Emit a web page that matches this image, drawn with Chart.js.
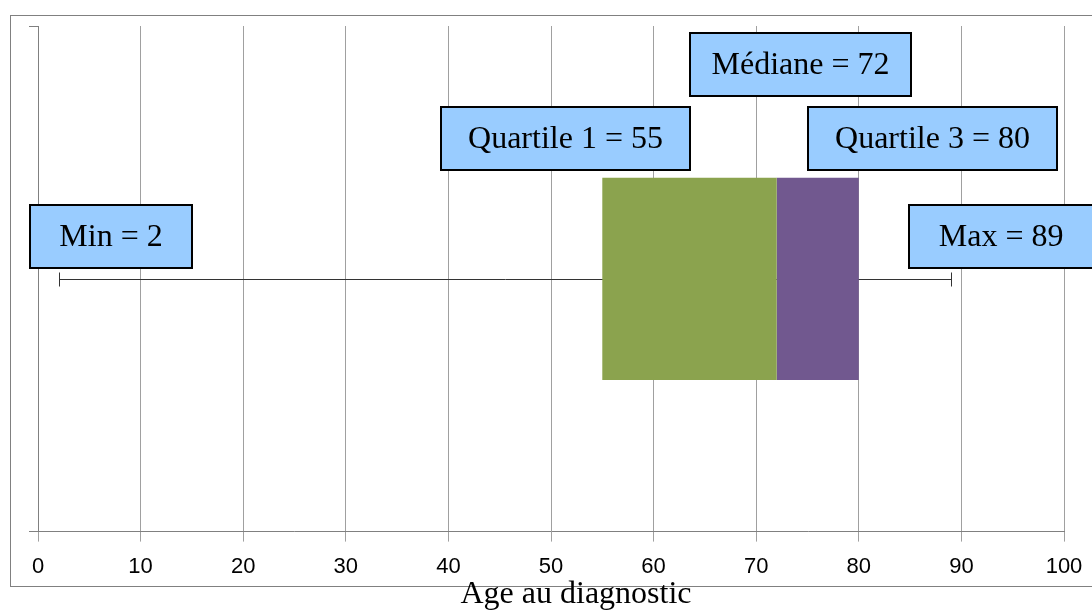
<!DOCTYPE html>
<html>
<head>
<meta charset="utf-8">
<script src="https://cdn.jsdelivr.net/npm/chart.js@4.4.1/dist/chart.umd.min.js"></script>
<style>
html,body{margin:0;padding:0;background:#fff;}
#wrap{width:1092px;height:610px;position:relative;}
</style>
</head>
<body>
<div id="wrap"><canvas id="c" width="1092" height="610"></canvas></div>
<script>
// ---- data ----
const categories = [''];
const minValue = 2;
const q1Value = 55;
const medianValue = 72;
const q3Value = 80;
const maxValue = 89;
const xTickValues = [0, 10, 20, 30, 40, 50, 60, 70, 80, 90, 100];
const xTitle = 'Age au diagnostic';
const labelTexts = ['Min = ' + minValue, 'Quartile 1 = ' + q1Value, 'Médiane = ' + medianValue, 'Quartile 3 = ' + q3Value, 'Max = ' + maxValue];
const labelValues = [minValue, q1Value, medianValue, q3Value, maxValue];

// label placement (pixels from value / whisker) and box padding
const labelDx = [52.5, -36.8, 23.8, 73.7, 50];
const labelDy = [-42, -140, -214, -140, -42];
const labelPad = [59, 54, 43, 54, 59];
const titleDx = 25;

const framePlugin = {
  id: 'frame',
  beforeDraw(chart) {
    const ctx = chart.ctx;
    ctx.save();
    ctx.fillStyle = '#fff';
    ctx.fillRect(0, 0, chart.width, chart.height);
    ctx.strokeStyle = '#808080';
    ctx.lineWidth = 1;
    ctx.strokeRect(10.5, 15.5, 1100, 571);
    ctx.restore();
  }
};

const whiskerPlugin = {
  id: 'whisker',
  beforeDatasetsDraw(chart) {
    const ctx = chart.ctx;
    const xs = chart.scales.x, ys = chart.scales.y;
    const y = Math.round(ys.getPixelForValue(0)) + 0.5;
    const x1 = Math.round(xs.getPixelForValue(minValue)) + 0.5;
    const x2 = Math.round(xs.getPixelForValue(maxValue)) + 0.5;
    ctx.save();
    ctx.strokeStyle = '#333';
    ctx.lineWidth = 1;
    ctx.beginPath();
    ctx.moveTo(x1, y); ctx.lineTo(x2, y);
    ctx.moveTo(x1, y - 7); ctx.lineTo(x1, y + 7);
    ctx.moveTo(x2, y - 7); ctx.lineTo(x2, y + 7);
    ctx.stroke();
    ctx.restore();
  }
};

const labelPlugin = {
  id: 'labels',
  afterDraw(chart) {
    const ctx = chart.ctx;
    const xs = chart.scales.x, ys = chart.scales.y;
    const yc = ys.getPixelForValue(0);
    ctx.save();
    ctx.font = '32px "Liberation Serif", "Times New Roman", serif';
    ctx.textAlign = 'center';
    ctx.textBaseline = 'middle';
    labelTexts.forEach((t, i) => {
      const cx = xs.getPixelForValue(labelValues[i]) + labelDx[i];
      const cy = yc + labelDy[i];
      const w = Math.round(ctx.measureText(t).width + labelPad[i]);
      const h = 63;
      const left = Math.round(cx - w / 2), top = Math.round(cy - h / 2);
      ctx.fillStyle = '#99ccff';
      ctx.fillRect(left, top, w, h);
      ctx.strokeStyle = '#000';
      ctx.lineWidth = 2;
      ctx.strokeRect(left, top, w, h);
      ctx.fillStyle = '#000';
      ctx.fillText(t, cx, cy + 1);
    });
    // axis title, drawn in the space reserved by the x scale title
    const a = chart.chartArea;
    ctx.textBaseline = 'middle';
    ctx.fillText(xTitle, (a.left + a.right) / 2 + titleDx, xs.bottom - 16);
    ctx.restore();
  }
};

Chart.defaults.font.family = '"Liberation Sans", Arial, sans-serif';
Chart.defaults.color = '#000';

new Chart(document.getElementById('c'), {
  type: 'bar',
  data: {
    labels: categories,
    datasets: [
      { label: 'Q1-Médiane', data: [[q1Value, medianValue]], backgroundColor: '#8ba34e', borderWidth: 0, grouped: false, barPercentage: 0.4, categoryPercentage: 1.0 },
      { label: 'Médiane-Q3', data: [[medianValue, q3Value]], backgroundColor: '#71588f', borderWidth: 0, grouped: false, barPercentage: 0.4, categoryPercentage: 1.0 }
    ]
  },
  options: {
    indexAxis: 'y',
    responsive: false,
    animation: false,
    layout: { padding: { left: 29, top: 26, right: 28, bottom: -1 } },
    plugins: { legend: { display: false }, tooltip: { enabled: false } },
    scales: {
      x: {
        type: 'linear', min: 0, max: 100,
        afterBuildTicks(scale) { scale.ticks = xTickValues.map(v => ({ value: v })); },
        afterFit(scale) { scale.paddingRight = 0; scale.paddingLeft = 0; },
        ticks: { font: { size: 22, lineHeight: 1.2 }, padding: 12, color: '#000', maxRotation: 0 },
        grid: { color: '#a0a0a0', tickLength: 10, lineWidth: 1 },
        border: { color: '#808080' },
        title: { display: true, text: xTitle, color: 'rgba(0,0,0,0)', font: { family: '"Liberation Serif", "Times New Roman", serif', size: 32, lineHeight: 1 }, padding: { top: -13, bottom: 0 } }
      },
      y: {
        type: 'category', offset: true,
        ticks: { display: false },
        grid: { display: true, drawOnChartArea: false, tickLength: 9, color: '#808080', offset: true },
        border: { color: '#808080' }
      }
    }
  },
  plugins: [framePlugin, whiskerPlugin, labelPlugin]
});
</script>
</body>
</html>
